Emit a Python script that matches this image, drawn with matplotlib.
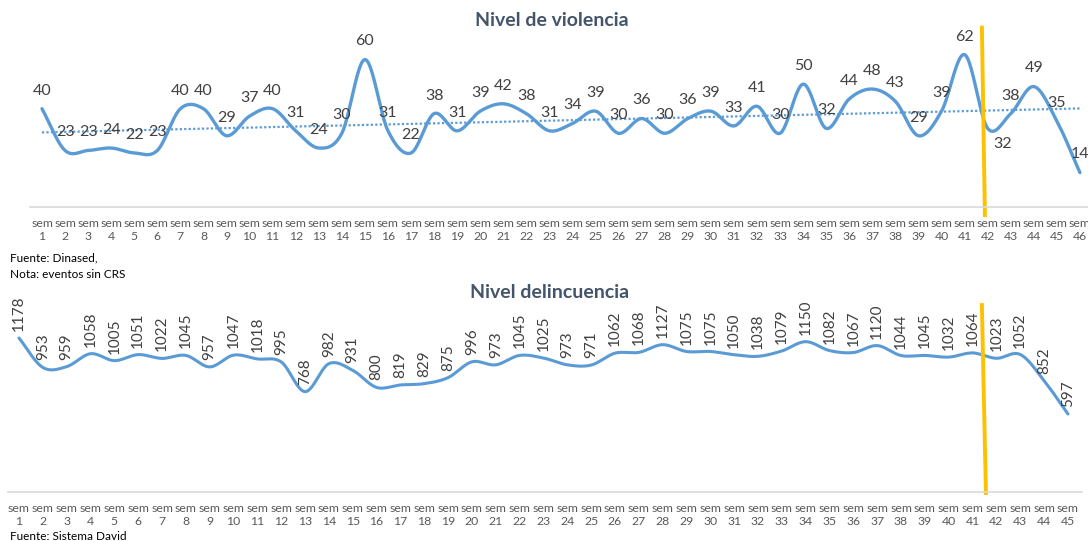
import numpy as np
import matplotlib
matplotlib.use("Agg")
import matplotlib.pyplot as plt

plt.rcParams['font.family'] = ['Lato', 'DejaVu Sans']

# --- data ---
violencia = [40, 23, 23, 24, 22, 23, 40, 40, 29, 37,
             40, 31, 24, 30, 60, 31, 22, 38, 31, 39,
             42, 38, 31, 34, 39, 30, 36, 30, 36, 39,
             33, 41, 30, 50, 32, 44, 48, 43, 29, 39,
             62, 32, 38, 49, 35, 14]
delincuencia = [1178, 953, 959, 1058, 1005, 1051, 1022, 1045, 957, 1047,
                1018, 995, 768, 982, 931, 800, 819, 829, 875, 996,
                973, 1045, 1025, 973, 971, 1062, 1068, 1127, 1075, 1075,
                1050, 1038, 1079, 1150, 1082, 1067, 1120, 1044, 1045, 1032,
                1064, 1023, 1052, 852, 597]
sem_v = [f"sem\n{i}" for i in range(1, len(violencia) + 1)]
sem_d = [f"sem\n{i}" for i in range(1, len(delincuencia) + 1)]

BLUE = "#5B9BD5"
ORANGE = "#FFC000"
GREY = "#595959"
TITLE = "#44546A"
W, H = 1088, 541


def smooth(x, y, n=24):
    # Catmull-Rom curve through the points, like Excel's smoothed line
    x = np.asarray(x, float)
    y = np.asarray(y, float)
    px = np.concatenate([[2 * x[0] - x[1]], x, [2 * x[-1] - x[-2]]])
    py = np.concatenate([[2 * y[0] - y[1]], y, [2 * y[-1] - y[-2]]])
    xs, ys = [], []
    t = np.linspace(0, 1, n, endpoint=False)
    for i in range(1, len(px) - 2):
        for arr, out in ((px, xs), (py, ys)):
            p0, p1, p2, p3 = arr[i - 1], arr[i], arr[i + 1], arr[i + 2]
            out.extend(0.5 * (2 * p1 + (-p0 + p2) * t
                              + (2 * p0 - 5 * p1 + 4 * p2 - p3) * t ** 2
                              + (-p0 + 3 * p1 - 3 * p2 + p3) * t ** 3))
    xs.append(x[-1])
    ys.append(y[-1])
    return xs, ys


def axes_px(fig, left, right, top, bottom):
    return fig.add_axes([left / W, 1 - bottom / H, (right - left) / W, (bottom - top) / H])


def style(ax, labels):
    for s in ("top", "left", "right"):
        ax.spines[s].set_visible(False)
    ax.spines["bottom"].set_color("#D9D9D9")
    ax.spines["bottom"].set_linewidth(1.2)
    ax.set_yticks([])
    ax.set_xticks(range(1, len(labels) + 1))
    ax.set_xticklabels(labels, fontsize=8.8, color=GREY, linespacing=1.2)
    ax.tick_params(axis="x", length=0, pad=8)


fig = plt.figure(figsize=(W / 100, H / 100), dpi=100)

# --- Nivel de violencia ---
ax1 = axes_px(fig, 30, 1088, 35, 207)
x1 = np.arange(1, len(violencia) + 1)
ax1.set_xlim(0.48, 46.35)
ax1.set_ylim(0, 70)
sx, sy = smooth(x1, violencia)
ax1.plot(sx, sy, color=BLUE, lw=2.4, solid_capstyle="round")
k, b = np.polyfit(x1, violencia, 1)
ax1.plot([1, 46], [k + b, k * 46 + b], color=BLUE, lw=1.6, ls=(0, (1, 1)))
for xi, v in zip(x1, violencia):
    if xi == 42:
        ax1.annotate(str(v), (xi, v), xytext=(11, -6), textcoords="offset points",
                     ha="center", va="top", fontsize=11.5, color="#404040")
    else:
        ax1.annotate(str(v), (xi, v), xytext=(0, 8), textcoords="offset points",
                     ha="center", va="bottom", fontsize=11.5, color="#404040",
                     annotation_clip=False)
ax1.plot([41.75, 41.88], [73, -3.3], color=ORANGE, lw=2.8, clip_on=False)
style(ax1, sem_v)

# --- Nivel delincuencia ---
ax2 = axes_px(fig, 8, 1082, 309, 492)
x2 = np.arange(1, len(delincuencia) + 1)
ax2.set_xlim(0.54, 45.59)
ax2.set_ylim(0, 1400)
sx, sy = smooth(x2, delincuencia)
ax2.plot(sx, sy, color=BLUE, lw=2.2, solid_capstyle="round")
for xi, v in zip(x2, delincuencia):
    ax2.annotate(str(v), (xi, v), xytext=(0, 5), textcoords="offset points",
                 ha="center", va="bottom", rotation=90, fontsize=11,
                 color="#404040", annotation_clip=False)
ax2.plot([41.39, 41.56], [1430, -8], color=ORANGE, lw=2.8, clip_on=False)
style(ax2, sem_d)

fig.text(552 / W, 1 - 20 / H, "Nivel de violencia", ha="center", va="center",
         fontsize=14, fontweight="bold", color=TITLE)
fig.text(550 / W, 1 - 292 / H, "Nivel delincuencia", ha="center", va="center",
         fontsize=14, fontweight="bold", color=TITLE)
fig.text(10 / W, 1 - 258 / H, "Fuente: Dinased,", ha="left", va="center", fontsize=8.5, color="black")
fig.text(10 / W, 1 - 274 / H, "Nota: eventos sin CRS", ha="left", va="center", fontsize=8.5, color="black")
fig.text(10 / W, 1 - 536 / H, "Fuente: Sistema David", ha="left", va="center", fontsize=8.5, color="black")

fig.savefig("out.png", dpi=100)
